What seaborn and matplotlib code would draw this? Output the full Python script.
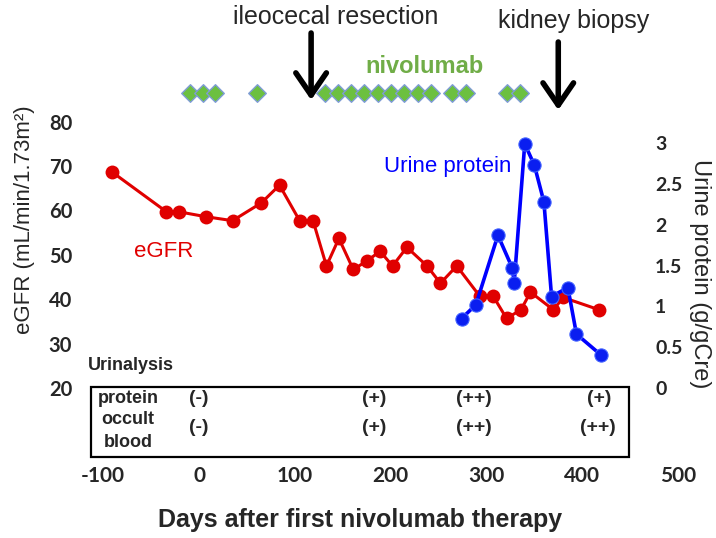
import numpy as np
import pandas as pd
import seaborn as sns
import matplotlib
matplotlib.use("Agg")
import matplotlib.pyplot as plt
from matplotlib.patches import Rectangle
import matplotlib.transforms as mtransforms

# ---------------- data ----------------
egfr_days = [-91, -34, -21, 7, 35, 65, 84, 105, 119, 133, 146, 161, 175, 189,
             202, 217, 238, 252, 269, 293, 307, 321, 336, 346, 370, 380, 418]
egfr_vals = [68.7, 59.7, 59.7, 58.6, 57.7, 61.7, 65.7, 57.7, 57.7, 47.5, 53.7,
             46.7, 48.6, 50.8, 47.5, 51.7, 47.5, 43.6, 47.5, 40.7, 40.7, 35.7,
             37.6, 41.6, 37.6, 40.4, 37.6]

prot_days = [274, 289, 312, 327, 329, 340, 350, 360, 368, 385, 394, 420]
prot_vals = [0.85, 1.02, 1.87, 1.47, 1.29, 2.99, 2.73, 2.28, 1.12, 1.23, 0.66, 0.40]

nivo_days = [-9, 4, 17, 61, 131, 145, 159, 172, 187, 200, 214, 229, 242, 264,
             279, 322, 335]

event_days = [117, 375]
event_labels = ["ileocecal resection", "kidney biopsy"]

x_ticks = [-100, 0, 100, 200, 300, 400, 500]
x_ticklabels = ["-100", "0", "100", "200", "300", "400", "500"]
left_ticks = [20, 30, 40, 50, 60, 70, 80]
right_ticks = [0, 0.5, 1, 1.5, 2, 2.5, 3]
right_ticklabels = ["0", "0.5", "1", "1.5", "2", "2.5", "3"]

ua_protein_days = [0, 183, 287, 418]
ua_protein_labels = ["(-)", "(+)", "(++)", "(+)"]
ua_blood_days = [0, 183, 287, 416]
ua_blood_labels = ["(-)", "(+)", "(++)", "(++)"]

# ---------------- style ----------------
sns.set_style("white")
plt.rcParams["font.family"] = ["Liberation Sans", "DejaVu Sans"]

W, H = 716, 538
fig = plt.figure(figsize=(W / 100, H / 100), dpi=100)


def fx(p):
    return p / W


def fy(p):
    return 1 - p / H


x0, x1, ytop, ybot = 74.5, 682.8, 121.7, 388.0
ax = fig.add_axes([fx(x0), fy(ybot), (x1 - x0) / W, (ybot - ytop) / H])
ax2 = ax.twinx()

red = "#e00000"
blue = "#0000ff"
green = "#70ad47"

sns.lineplot(x=egfr_days, y=egfr_vals, ax=ax, color=red, lw=2.2, marker="o",
             markersize=10, markeredgewidth=0, sort=False, estimator=None,
             clip_on=False)
sns.lineplot(x=prot_days, y=prot_vals, ax=ax2, color=blue, lw=2.6, marker="o",
             markersize=9.5, markeredgewidth=0.8, markeredgecolor="#4060ff",
             markerfacecolor="#0a1ef0", sort=False, estimator=None, clip_on=False)

# nivolumab administrations (diamonds above plot)
nivo_y = 86.5
ax.scatter(nivo_days, [nivo_y] * len(nivo_days), marker="D", s=80,
           facecolor="#6cc040", edgecolor="#7f9cd6", linewidth=1.0,
           clip_on=False, zorder=5)

ax.set_xlim(-130, 505)
ax.set_ylim(20, 80)
ax2.set_ylim(0, 3.261)

ax.set_xticks(x_ticks)
ax.set_xticklabels(x_ticklabels, fontfamily="Lato", fontweight="bold", fontsize=15)
ax.set_yticks(left_ticks)
ax.set_yticklabels([str(t) for t in left_ticks], fontfamily="Lato",
                   fontweight="bold", fontsize=14.5)
ax2.set_yticks(right_ticks)
ax2.set_yticklabels(right_ticklabels, fontfamily="Lato", fontweight="bold",
                    fontsize=14)

ax.tick_params(axis="x", length=0, pad=56)
ax.tick_params(axis="y", length=0, pad=1.8)
ax2.tick_params(axis="y", length=0, pad=-20)
for a in (ax, ax2):
    a.grid(False)
    for s in a.spines.values():
        s.set_visible(False)

ax.set_ylabel("eGFR (mL/min/1.73m²)", fontsize=16, va="center")
ax.yaxis.set_label_coords((25 - x0) / (x1 - x0), (ybot - 220) / (ybot - ytop))
ax2.set_ylabel("Urine protein (g/gCre)", fontsize=17, rotation=270, va="center")
ax2.yaxis.set_label_coords((700 - x0) / (x1 - x0), (ybot - 274) / (ybot - ytop))
ax.set_xlabel("Days after first nivolumab therapy", fontsize=18,
              fontweight="bold", va="center")
ax.xaxis.set_label_coords((360 - x0) / (x1 - x0), (ybot - 520) / (ybot - ytop))

# series labels
ax.text(-37, 50.8, "eGFR", color=red, fontsize=16, ha="center", va="center")
ax.text(260, 69.8, "Urine protein", color=blue, fontsize=16, ha="center",
        va="center")

# events with arrows
bt = mtransforms.blended_transform_factory(ax.transData, fig.transFigure)
tops = [33, 42]
tips = [100, 110]
for d, t0, t1 in zip(event_days, tops, tips):
    ax.annotate("", xy=(d, fy(t1)), xytext=(d, fy(t0)),
                xycoords=("data", "figure fraction"),
                textcoords=("data", "figure fraction"),
                arrowprops=dict(arrowstyle="->,head_length=0.8,head_width=0.55",
                                lw=4.0, color="black", shrinkA=0, shrinkB=0,
                                mutation_scale=20),
                annotation_clip=False)
fig.text(fx(336), fy(17), event_labels[0], fontsize=18, ha="center", va="center")
fig.text(fx(574), fy(21), event_labels[1], fontsize=18, ha="center", va="center")
fig.text(fx(424), fy(66), "nivolumab", fontsize=17, fontweight="bold",
         color=green, ha="center", va="center")

# urinalysis table
fig.text(fx(88), fy(366), "Urinalysis", fontsize=13, fontweight="bold",
         ha="left", va="center")
fig.patches.append(Rectangle((fx(91), fy(456.6)), (629 - 91) / W,
                             (456.6 - 387) / H, transform=fig.transFigure,
                             fill=False, edgecolor="black", lw=1.6))
fig.text(fx(128), fy(398.5), "protein", fontsize=13, fontweight="bold",
         ha="center", va="center")
fig.text(fx(128), fy(431), "occult\nblood", fontsize=13, fontweight="bold",
         ha="center", va="center", linespacing=1.4)
for d, lab in zip(ua_protein_days, ua_protein_labels):
    ax.text(d, fy(398.5), lab, transform=bt, fontsize=14, fontweight="bold",
            ha="center", va="center")
for d, lab in zip(ua_blood_days, ua_blood_labels):
    ax.text(d, fy(427), lab, transform=bt, fontsize=14, fontweight="bold",
            ha="center", va="center")

fig.savefig("out.png", dpi=100)
